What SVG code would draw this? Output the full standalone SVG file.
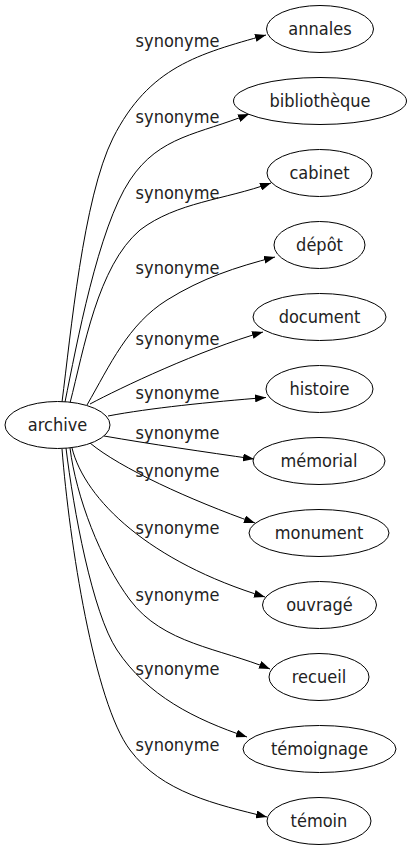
<svg xmlns="http://www.w3.org/2000/svg" width="409" height="851" viewBox="0 0 409 851">
<style>
.n ellipse{fill:#fff;stroke:#000;stroke-width:1}
text{font-family:"DejaVu Sans Condensed","DejaVu Sans",sans-serif;font-stretch:condensed;font-size:18px;fill:#222;text-anchor:middle}
.e path{fill:none;stroke:#000;stroke-width:1;marker-end:url(#ah)}
</style>
<defs>
<marker id="ah" markerWidth="11" markerHeight="8" refX="11" refY="4" orient="auto" markerUnits="userSpaceOnUse"><path d="M0,0 L11,4 L0,8 z" fill="#000"/></marker>
</defs>
<rect width="409" height="851" fill="#fff"/>
<g id="edges" class="e">
<path d="M62,402 C70.7,335 83,198 113,138 C149,66.8 198.6,53.9 266,35"/>
<path d="M65,402 C76.6,345 98,228 130,180 C159.7,135.2 199.3,134.5 249,114"/>
<path d="M70,403 C84,349 97.4,266.4 140,230 C177,202 224,200 271,183"/>
<path d="M87,405 C110,365 128,324.4 167,300 C201.9,278.3 235.2,267.25 275,257"/>
<path d="M90,404 C120,388 200,350 263,332"/>
<path d="M108,416 C150,408 210,402 266,397.5"/>
<path d="M104,436 C150,444 205,452 254,459"/>
<path d="M90,443 C120,468 190,500 255,523"/>
<path d="M72,448 C85,500 150,562 265,597"/>
<path d="M70,448 C76,496.5 100.6,560.8 130,600 C163,644 219.4,648.1 270,669"/>
<path d="M66,448 C73.4,509.4 92.25,612.65 117,650 C147.3,695.7 194.75,719.4 247,737"/>
<path d="M62,449 C69.4,542 94,702 130,750 C161.8,792.4 215.6,804.3 267,817"/>
</g>
<g id="labels">
<text x="177.5" y="47">synonyme</text>
<text x="177.5" y="123">synonyme</text>
<text x="177.5" y="199">synonyme</text>
<text x="177.5" y="274">synonyme</text>
<text x="177.5" y="345">synonyme</text>
<text x="177.5" y="399">synonyme</text>
<text x="177.5" y="439">synonyme</text>
<text x="177.5" y="477">synonyme</text>
<text x="177.5" y="534">synonyme</text>
<text x="177.5" y="601">synonyme</text>
<text x="177.5" y="675">synonyme</text>
<text x="177.5" y="751">synonyme</text>
</g>
<g id="archive" class="n"><ellipse cx="57.5" cy="425" rx="52.5" ry="23.5"/><text x="57.5" y="431">archive</text></g>
<g id="annales" class="n"><ellipse cx="320" cy="29" rx="53.5" ry="23.5"/><text x="320" y="35">annales</text></g>
<g id="bibliotheque" class="n"><ellipse cx="320" cy="101" rx="86.5" ry="23.5"/><text x="320" y="107">bibliothèque</text></g>
<g id="cabinet" class="n"><ellipse cx="319.5" cy="173" rx="52.5" ry="23.5"/><text x="319.5" y="179">cabinet</text></g>
<g id="depot" class="n"><ellipse cx="319.5" cy="245" rx="45.5" ry="23.5"/><text x="319.5" y="251">dépôt</text></g>
<g id="document" class="n"><ellipse cx="319.5" cy="317" rx="66.5" ry="23.5"/><text x="319.5" y="323">document</text></g>
<g id="histoire" class="n"><ellipse cx="319.5" cy="389" rx="53.5" ry="23.5"/><text x="319.5" y="395">histoire</text></g>
<g id="memorial" class="n"><ellipse cx="319" cy="461" rx="66" ry="23.5"/><text x="319" y="467">mémorial</text></g>
<g id="monument" class="n"><ellipse cx="319" cy="533" rx="70" ry="23.5"/><text x="319" y="539">monument</text></g>
<g id="ouvrage" class="n"><ellipse cx="319.5" cy="605" rx="57" ry="23.5"/><text x="319.5" y="611">ouvragé</text></g>
<g id="recueil" class="n"><ellipse cx="319" cy="677" rx="50" ry="23.5"/><text x="319" y="683">recueil</text></g>
<g id="temoignage" class="n"><ellipse cx="319.5" cy="749" rx="76.5" ry="23.5"/><text x="319.5" y="755">témoignage</text></g>
<g id="temoin" class="n"><ellipse cx="319" cy="821" rx="52" ry="23.5"/><text x="319" y="827">témoin</text></g>
</svg>
